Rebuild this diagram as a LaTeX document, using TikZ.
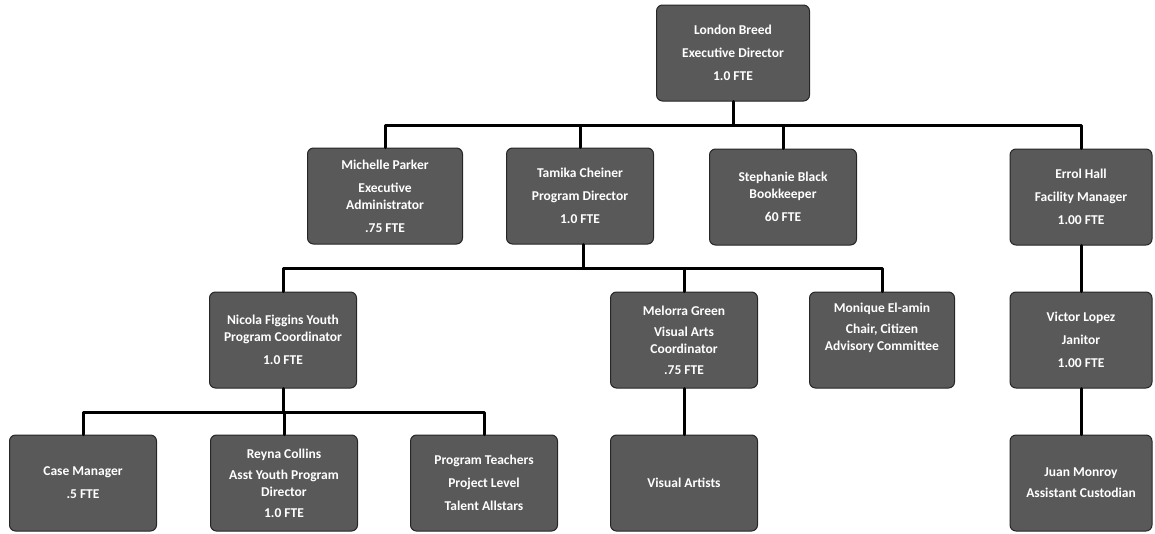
\documentclass[tikz,border=0pt]{standalone}
\usepackage{fontspec}
\setmainfont{Carlito}
\begin{document}
\begin{tikzpicture}[x=1pt,y=-1pt, line join=round, line cap=round,
	box/.style={draw=black!85, line width=1pt, rounded corners=6pt, fill=black!65,
		text=white, font=\bfseries\fontsize{13.5}{17}\selectfont, align=center,
		minimum width=147pt, minimum height=96pt, inner sep=1pt},
	conn/.style={line width=3pt, black}]
	\useasboundingbox (0,0) rectangle (1155,533);
	% level 1
	\node[box, minimum width=153pt] (london) at (733,53) {London Breed\\[6pt]Executive Director\\[6pt]1.0 FTE};
	% level 2
	\node[box, minimum width=155pt] (michelle) at (385,196) {Michelle Parker\\[6pt]Executive\\Administrator\\[6pt].75 FTE};
	\node[box] (tamika) at (580,196) {Tamika Cheiner\\[6pt]Program Director\\[6pt]1.0 FTE};
	\node[box] (stephanie) at (783,197) {Stephanie Black\\Bookkeeper\\[6pt]60 FTE};
	\node[box, minimum width=142pt] (errol) at (1081,197) {Errol Hall\\[6pt]Facility Manager\\[6pt]1.00 FTE};
	% level 3
	\node[box] (nicola) at (283,340) {Nicola Figgins Youth\\Program Coordinator\\[6pt]1.0 FTE};
	\node[box] (melorra) at (684,340) {Melorra Green\\[4pt]Visual Arts\\Coordinator\\[4pt].75 FTE};
	\node[box, minimum width=145pt] (monique) at (882,340) {Monique El-amin\\[4pt]Chair, Citizen\\Advisory Committee\\[10pt]};
	\node[box, minimum width=142pt] (victor) at (1081,340) {Victor Lopez\\[6pt]Janitor\\[6pt]1.00 FTE};
	% level 4
	\node[box] (casemgr) at (83,483) {Case Manager\\[6pt].5 FTE};
	\node[box] (reyna) at (284,483) {Reyna Collins\\[4pt]Asst Youth Program\\Director\\[4pt]1.0 FTE};
	\node[box] (teachers) at (484,483) {Program Teachers\\[6pt]Project Level\\[6pt]Talent Allstars};
	\node[box] (artists) at (684,483) {Visual Artists};
	\node[box, minimum width=142pt] (juan) at (1081,483) {Juan Monroy\\[4pt]Assistant Custodian};
	% buses
	\coordinate (busA) at (733,125);
	\coordinate (busB) at (583,268);
	\coordinate (busC) at (283,412);
	\draw[conn] (london.south) -- (busA);
	\foreach \c in {michelle,tamika,stephanie,errol}
		\draw[conn] (busA) -| (\c.north);
	\draw[conn] (tamika.south -| busB) -- (busB);
	\foreach \c in {nicola,melorra,monique}
		\draw[conn] (busB) -| (\c.north);
	\draw[conn] (nicola.south) -- (busC);
	\foreach \c in {casemgr,reyna,teachers}
		\draw[conn] (busC) -| (\c.north);
	\draw[conn] (melorra.south) -- (artists.north);
	\draw[conn] (errol.south) -- (victor.north);
	\draw[conn] (victor.south) -- (juan.north);
\end{tikzpicture}
\end{document}
